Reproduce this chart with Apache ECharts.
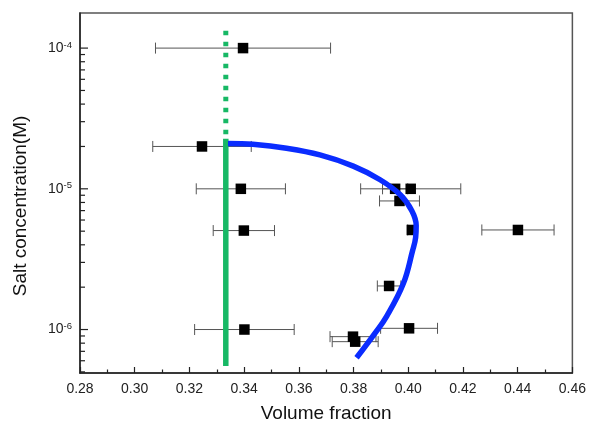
<!DOCTYPE html>
<html>
<head>
<meta charset="utf-8">
<script src="https://cdn.jsdelivr.net/npm/echarts@6/dist/echarts.min.js"></script>
<style>html,body{margin:0;padding:0;background:#fff;}#c{width:589px;height:428px;}</style>
</head>
<body>
<div id="c"></div>
<script>
// ---- data ----
var pointX = [0.3396, 0.3246, 0.3388, 0.3952, 0.4009, 0.3968, 0.4013, 0.4401, 0.3399, 0.3930, 0.4003, 0.3798, 0.3806, 0.3401];
var pointY = [1e-4, 2e-5, 1e-5, 1e-5, 1e-5, 8.2e-6, 5.1e-6, 5.1e-6, 5.05e-6, 2.04e-6, 1.02e-6, 8.9e-7, 8.2e-7, 1e-6];
var pointErr = [0.032, 0.018, 0.0163, 0.0046, 0.0183, 0.0073, 0.0015, 0.0132, 0.0112, 0.0043, 0.0104, 0.0084, 0.0084, 0.0182];
var curveX = [0.3341, 0.3432, 0.3555, 0.3677, 0.3799, 0.3897, 0.3970, 0.4013, 0.4029, 0.4027, 0.4016, 0.3982, 0.3921, 0.3878, 0.3811];
var curveY = [2.10e-5, 2.07e-5, 1.94e-5, 1.74e-5, 1.45e-5, 1.16e-5, 9.1e-6, 6.98e-6, 5.48e-6, 4.51e-6, 3.64e-6, 2.12e-6, 1.24e-6, 9.4e-7, 6.3e-7];
var greenX = 0.3333;
var greenDottedY = [1.33e-4, 2.27e-5];
var greenSolidY = [2.27e-5, 5.5e-7];
var xTicks = [0.28, 0.46, 0.02];
var yRange = [4.91e-7, 1.776e-4];
var yMajorTicks = [1e-6, 1e-5, 1e-4];
var yMinorTicks = [5e-7, 6e-7, 7e-7, 8e-7, 9e-7, 2e-6, 3e-6, 4e-6, 5e-6, 6e-6, 7e-6, 8e-6, 9e-6, 2e-5, 3e-5, 4e-5, 5e-5, 6e-5, 7e-5, 8e-5, 9e-5];
var xName = 'Volume fraction';
var yName = 'Salt concentration(M)';

var FONT = 'Liberation Sans, Arial, sans-serif';
var chart = echarts.init(document.getElementById('c'), null, {renderer: 'canvas'});

var scatterData = pointX.map(function (x, i) { return [x, pointY[i]]; });
var errData = pointX.map(function (x, i) { return [x, pointY[i], pointErr[i]]; });
var curveData = curveX.map(function (x, i) { return [x, curveY[i]]; });
var yTickData = yMajorTicks.map(function (v) { return [xTicks[0], v, 8]; })
  .concat(yMinorTicks.map(function (v) { return [xTicks[0], v, 5]; }));

chart.setOption({
  animation: false,
  backgroundColor: '#fff',
  grid: {left: 80, right: 16.5, top: 13, bottom: 51, show: true, borderColor: '#555', borderWidth: 1.5},
  xAxis: {
    type: 'value', min: xTicks[0], max: xTicks[1], interval: xTicks[2],
    name: xName, nameLocation: 'middle', nameGap: 31,
    nameTextStyle: {fontFamily: FONT, fontSize: 19, color: '#111'},
    axisLine: {lineStyle: {color: '#222', width: 1.5}},
    axisTick: {inside: true, length: 6, lineStyle: {color: '#222', width: 1.2}},
    minorTick: {show: true, splitNumber: 2, length: 3.5, lineStyle: {color: '#222', width: 1.2}},
    axisLabel: {fontFamily: FONT, fontSize: 14, color: '#222', margin: 9,
      formatter: function (v) { return v.toFixed(2); }},
    splitLine: {show: false}
  },
  yAxis: {
    type: 'log', logBase: 10, min: yRange[0], max: yRange[1],
    name: yName, nameLocation: 'middle', nameGap: 50,
    nameTextStyle: {fontFamily: FONT, fontSize: 19, color: '#111', padding: [0, 26, 0, 0]},
    axisLine: {lineStyle: {color: '#222', width: 1.5}},
    axisTick: {show: false},
    axisLabel: {
      margin: 8, color: '#222', fontFamily: FONT,
      formatter: function (v) {
        var l = Math.log(v) / Math.LN10;
        var e = Math.round(l);
        if (Math.abs(l - e) > 1e-6) return '';
        return '{b|10}{s|' + e + '}';
      },
      rich: {
        b: {fontFamily: FONT, fontSize: 14, color: '#222', lineHeight: 16},
        s: {fontFamily: FONT, fontSize: 9.5, color: '#222', verticalAlign: 'top', lineHeight: 10}
      }
    },
    splitLine: {show: false}
  },
  series: [
    {
      type: 'custom', name: 'yTicks', silent: true, z: 3,
      data: yTickData,
      renderItem: function (params, api) {
        var p = api.coord([api.value(0), api.value(1)]);
        return {type: 'line', shape: {x1: p[0], y1: p[1], x2: p[0] + api.value(2), y2: p[1]},
          style: {stroke: '#222', lineWidth: 1.2}};
      }
    },
    {
      type: 'custom', name: 'errors', silent: true, z: 2,
      data: errData,
      renderItem: function (params, api) {
        var x = api.value(0), y = api.value(1), e = api.value(2);
        var a = api.coord([x - e, y]), b = api.coord([x + e, y]);
        var h = 5.5;
        var st = {stroke: '#555', lineWidth: 1};
        return {type: 'group', children: [
          {type: 'line', shape: {x1: a[0], y1: a[1], x2: b[0], y2: b[1]}, style: st},
          {type: 'line', shape: {x1: a[0], y1: a[1] - h, x2: a[0], y2: a[1] + h}, style: st},
          {type: 'line', shape: {x1: b[0], y1: b[1] - h, x2: b[0], y2: b[1] + h}, style: st}
        ]};
      }
    },
    {
      type: 'line', name: 'green dotted', z: 4, symbol: 'none', silent: true,
      data: greenDottedY.map(function (v) { return [greenX, v]; }),
      lineStyle: {color: '#17b865', width: 5, type: [4.5, 6.5], cap: 'butt'}
    },
    {
      type: 'line', name: 'green solid', z: 4, symbol: 'none', silent: true,
      data: greenSolidY.map(function (v) { return [greenX, v]; }),
      lineStyle: {color: '#17b865', width: 5.5, cap: 'butt'}
    },
    {
      type: 'scatter', name: 'points', z: 5, symbol: 'rect', symbolSize: 10.5,
      itemStyle: {color: '#000', opacity: 1}, data: scatterData
    },
    {
      type: 'line', name: 'curve', z: 6, symbol: 'none', smooth: 0.4, silent: true,
      data: curveData,
      lineStyle: {color: '#0a2cff', width: 5.5, cap: 'butt'}
    }
  ]
});
</script>
</body>
</html>
